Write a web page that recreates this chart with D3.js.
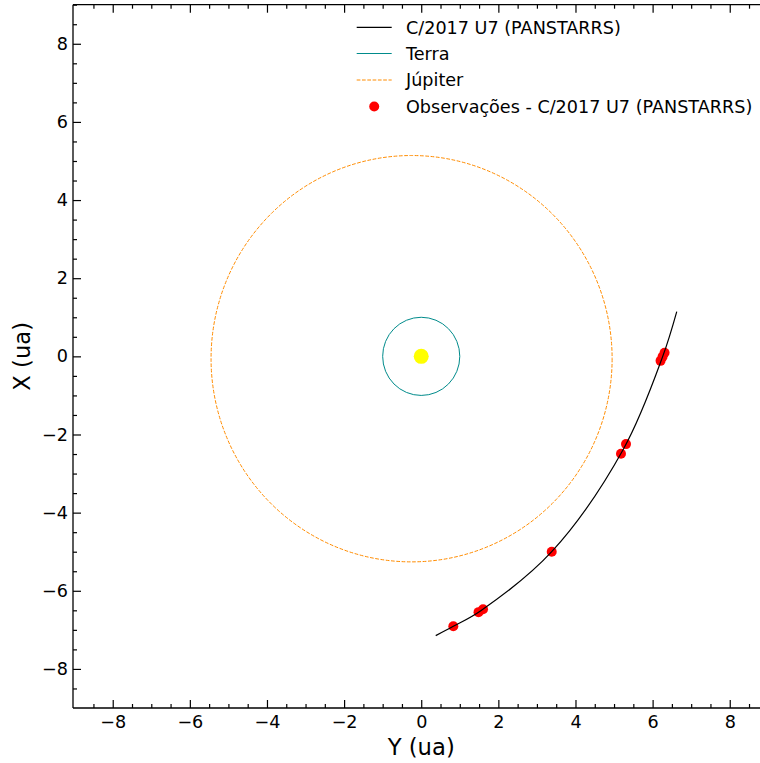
<!DOCTYPE html>
<html>
<head>
<meta charset="utf-8">
<script src="https://cdn.jsdelivr.net/npm/d3@7"></script>
<style>
  html, body { margin: 0; padding: 0; background: #fff; overflow: hidden; }
  svg { display: block; font-family: "DejaVu Sans", sans-serif; }
</style>
</head>
<body>
<svg id="chart" width="760" height="763"></svg>
<script>
// Heliocentric view of comet C/2017 U7 (PANSTARRS), axes in astronomical units
const seriesNames = ["C/2017 U7 (PANSTARRS)", "Terra", "Júpiter", "Observações - C/2017 U7 (PANSTARRS)"];

// Comet trajectory, [Y, X] in ua
const cometPath = [
  [0.376, -7.148], [0.832, -6.910], [1.545, -6.510], [3.384, -5.000],
  [5.245, -2.370], [6.258, -0.013], [6.626, 1.146]
];

// Astrometric observations, [Y, X] in ua
const observations = [
  [0.832, -6.910], [1.486, -6.547], [1.603, -6.471], [3.384, -5.000],
  [5.180, -2.494], [5.310, -2.246], [6.206, -0.115], [6.258, -0.013], [6.310, 0.090]
];

// Planetary orbits: centre [Y, X] and radii [rY, rX] in ua
const earthCenter = [0, 0];
const earthRadii = [1, 1];
const jupiterCenter = [-0.25, -0.06];
const jupiterRadii = [5.2, 5.2];
const sunPosition = [0, 0];

const xDomain = [-9.03, 9];
const yDomain = [-9, 9];
const majorTicks = [-8, -6, -4, -2, 0, 2, 4, 6, 8];
const minorTicks = d3.range(-8.5, 9.01, 0.5).filter(v => !majorTicks.includes(v));

const colors = { comet: "#000000", earth: "#008b8b", jupiter: "#ff8c00", obs: "#ff0000", sun: "#ffff00" };
const labelSize = 17.6, titleSize = 22.7;

const svg = d3.select("#chart");
const padL = 73, padT = 4.7, padB = 708, padR = 768.3;

const x = d3.scaleLinear().domain(xDomain).range([padL, padR]);
const y = d3.scaleLinear().domain(yDomain).range([padB, padT]);

const plot = svg.append("g");

// Orbits
plot.append("ellipse")
  .attr("cx", x(jupiterCenter[0])).attr("cy", y(jupiterCenter[1]))
  .attr("rx", x(jupiterRadii[0]) - x(0)).attr("ry", y(0) - y(jupiterRadii[1]))
  .attr("fill", "none").attr("stroke", colors.jupiter)
  .attr("stroke-width", 1).attr("stroke-dasharray", "3.7,1.6");

plot.append("ellipse")
  .attr("cx", x(earthCenter[0])).attr("cy", y(earthCenter[1]))
  .attr("rx", x(earthRadii[0]) - x(0)).attr("ry", y(0) - y(earthRadii[1]))
  .attr("fill", "none").attr("stroke", colors.earth).attr("stroke-width", 1);

// Sun
plot.append("circle")
  .attr("cx", x(sunPosition[0])).attr("cy", y(sunPosition[1]))
  .attr("r", 7.5).attr("fill", colors.sun);

// Observations
plot.selectAll("circle.obs").data(observations).join("circle")
  .attr("class", "obs")
  .attr("cx", d => x(d[0])).attr("cy", d => y(d[1]))
  .attr("r", 5).attr("fill", colors.obs);

// Comet trajectory
const line = d3.line().x(d => x(d[0])).y(d => y(d[1])).curve(d3.curveCatmullRom.alpha(0.5));
plot.append("path").datum(cometPath)
  .attr("d", line).attr("fill", "none")
  .attr("stroke", colors.comet).attr("stroke-width", 1.2);

// Axes with inward ticks
const axisColor = "#000";
function tickAxis(g, axisGen) {
  g.call(axisGen);
  g.select(".domain").remove();
  g.selectAll("line").attr("stroke", axisColor).attr("stroke-width", 1.2);
}

const fmt = d => d < 0 ? "\u2212" + Math.abs(d) : String(d);

// bottom
svg.append("g").attr("transform", `translate(0,${padB})`)
  .call(g => tickAxis(g, d3.axisBottom(x).tickValues(majorTicks).tickSize(-8).tickFormat(fmt).tickPadding(8)))
  .call(g => g.selectAll("text").attr("font-size", labelSize).attr("fill", "#000")
    .attr("font-family", "DejaVu Sans").attr("dy", "0.71em"));
svg.append("g").attr("transform", `translate(0,${padB})`)
  .call(g => tickAxis(g, d3.axisBottom(x).tickValues(minorTicks).tickSize(-4).tickFormat("")));

// top
svg.append("g").attr("transform", `translate(0,${padT})`)
  .call(g => tickAxis(g, d3.axisTop(x).tickValues(majorTicks).tickSize(-8).tickFormat("")));
svg.append("g").attr("transform", `translate(0,${padT})`)
  .call(g => tickAxis(g, d3.axisTop(x).tickValues(minorTicks).tickSize(-4).tickFormat("")));

// left
svg.append("g").attr("transform", `translate(${padL},0)`)
  .call(g => tickAxis(g, d3.axisLeft(y).tickValues(majorTicks).tickSize(-8).tickFormat(fmt).tickPadding(5)))
  .call(g => g.selectAll("text").attr("font-size", labelSize).attr("fill", "#000")
    .attr("font-family", "DejaVu Sans"));
svg.append("g").attr("transform", `translate(${padL},0)`)
  .call(g => tickAxis(g, d3.axisLeft(y).tickValues(minorTicks).tickSize(-4).tickFormat("")));

// spines
svg.append("line").attr("x1", padL).attr("x2", padR).attr("y1", padB).attr("y2", padB)
  .attr("stroke", axisColor).attr("stroke-width", 1.3);
svg.append("line").attr("x1", padL).attr("x2", padR).attr("y1", padT).attr("y2", padT)
  .attr("stroke", axisColor).attr("stroke-width", 1.3);
svg.append("line").attr("x1", padL).attr("x2", padL).attr("y1", padT).attr("y2", padB)
  .attr("stroke", axisColor).attr("stroke-width", 1.3);

// axis titles
svg.append("text").attr("x", x(0)).attr("y", 755).attr("text-anchor", "middle")
  .attr("font-size", titleSize).text("Y (ua)");
svg.append("text").attr("transform", `translate(30,${y(0)}) rotate(-90)`).attr("text-anchor", "middle")
  .attr("font-size", titleSize).text("X (ua)");

// legend
const legend = svg.append("g");
const rowY = [27.3, 53.5, 80, 106.5];
const hx0 = 356.7, hx1 = 391.7, tx = 406;
legend.append("line").attr("x1", hx0).attr("x2", hx1).attr("y1", rowY[0]).attr("y2", rowY[0])
  .attr("stroke", colors.comet).attr("stroke-width", 1.2);
legend.append("line").attr("x1", hx0).attr("x2", hx1).attr("y1", rowY[1]).attr("y2", rowY[1])
  .attr("stroke", colors.earth).attr("stroke-width", 1);
legend.append("line").attr("x1", hx0).attr("x2", hx1).attr("y1", rowY[2]).attr("y2", rowY[2])
  .attr("stroke", colors.jupiter).attr("stroke-width", 1).attr("stroke-dasharray", "3.7,1.6");
legend.append("circle").attr("cx", (hx0 + hx1) / 2).attr("cy", rowY[3]).attr("r", 5).attr("fill", colors.obs);
legend.selectAll("text.lbl").data(seriesNames).join("text")
  .attr("class", "lbl")
  .attr("x", tx).attr("y", (d, i) => rowY[i] + 6.3)
  .attr("font-size", labelSize).attr("fill", "#000").text(d => d);
</script>
</body>
</html>
